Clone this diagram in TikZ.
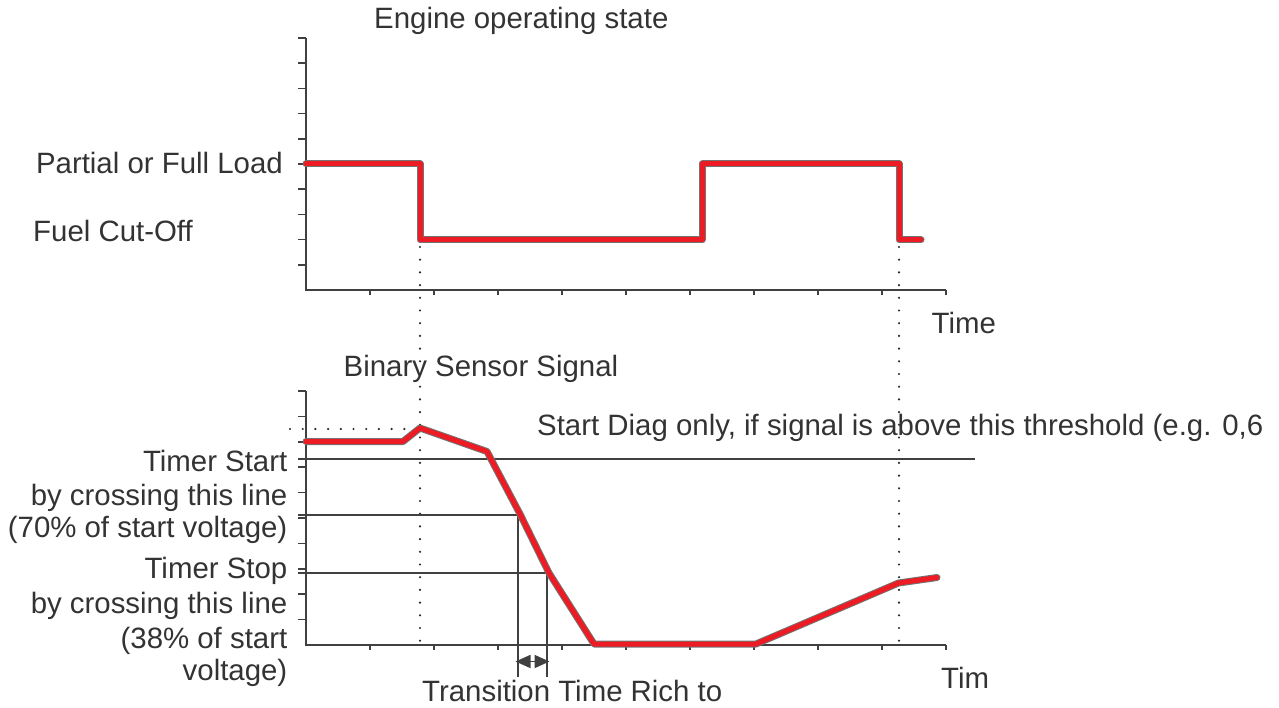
\documentclass[tikz,border=0pt]{standalone}
\usepackage{fontspec}
\setmainfont{Liberation Sans}
\usetikzlibrary{arrows.meta}
\definecolor{sigred}{RGB}{237,28,36}
\definecolor{ink}{RGB}{51,51,51}
\definecolor{axisgray}{RGB}{64,64,64}
\begin{document}
\begin{tikzpicture}[x=1pt,y=-1pt,
  lbl/.style={inner sep=0pt, text=ink, font=\fontsize{29.4}{35}\selectfont},
  axisline/.style={draw=axisgray, line width=2pt},
  tickline/.style={draw=axisgray, line width=1.5pt},
  guide/.style={draw=axisgray, line width=1.6pt},
  dotline/.style={draw=black!85, line width=2.4pt, line cap=round, dash pattern=on 0pt off 12.7pt},
  sig/.style={line width=7pt, draw=black!55, line join=round, line cap=round,
              postaction={draw=sigred, line width=5pt, line join=round, line cap=round}},
]
\useasboundingbox (0,0) rectangle (1279,708);

% ---------- top chart ----------
\draw[axisline] (306,38) -- (306,290) -- (946,290);
\foreach \k in {0,...,9} \draw[tickline] (298,38+25.2*\k) -- (306,38+25.2*\k);
\foreach \k in {0,...,9} \draw[tickline] (370+64*\k,290) -- (370+64*\k,295);

% ---------- bottom chart ----------
\draw[axisline] (306,391) -- (306,645) -- (946,645);
\foreach \k in {0,...,9} \draw[tickline] (298,391+25.4*\k) -- (306,391+25.4*\k);
\foreach \k in {0,...,9} \draw[tickline] (370+64*\k,645) -- (370+64*\k,650);

% dotted guides
\draw[dotline] (420,247) -- (420,645);
\draw[dotline] (899,247) -- (899,645);
\draw[dotline] (290,429) -- (410,429);

% threshold lines
\draw[guide] (298,459) -- (975,459);
\draw[guide] (298,515) -- (518,515) -- (518,677);
\draw[guide] (298,573) -- (547,573) -- (547,677);
\coordinate (al) at (515.5,661.5);
\coordinate (ar) at (549.5,661.5);
\draw[guide, {Triangle[length=15pt,width=13pt]}-{Triangle[length=15pt,width=13pt]}] (al) -- (ar);

% signals
\draw[sig] (306,164) -- (420,164) -- (420,240) -- (702,240) -- (702,164) -- (899,164) -- (899,240) -- (921,240);
\draw[sig] (306,441.5) -- (403,441.5) -- (420,428) -- (487,451.5) -- (520,514) -- (549,573) -- (594,644) -- (756,644) -- (898.5,583) -- (937,577.5);

% labels
\node[lbl, anchor=base west] (title1) at (374,28.3) {Engine operating state};
\node[lbl, anchor=base east] (pfl) at (283,173.3) {Partial or Full Load};
\node[lbl, anchor=base west] (fco) at (33,241.7) {Fuel Cut-Off};
\node[lbl, anchor=base west] (time1) at (931.5,333.3) {Time};
\node[lbl, anchor=base west] (title2) at (343.5,376.7) {Binary Sensor Signal};
\node[lbl, anchor=base west] (diag) at (537,435) {Start Diag only, if signal is above this threshold (e.g. 0,6};
\node[lbl, anchor=base east] (ts1) at (287.5,471.7) {Timer Start};
\node[lbl, anchor=base east] (ts2) at (287.5,505) {by crossing this line};
\node[lbl, anchor=base east] (ts3) at (287.5,537.3) {(70\% of start voltage)};
\node[lbl, anchor=base east] (tp1) at (287.5,578.3) {Timer Stop};
\node[lbl, anchor=base east] (tp2) at (287.5,613.3) {by crossing this line};
\node[lbl, anchor=base east] (tp3) at (287.5,648.3) {(38\% of start};
\node[lbl, anchor=base east] (tp4) at (287.5,680) {voltage)};
\node[lbl, anchor=base west] (trans) at (422,701) {Transition Time Rich to};
\node[lbl, anchor=base west] (time2) at (941,688) {Tim};
\end{tikzpicture}
\end{document}
